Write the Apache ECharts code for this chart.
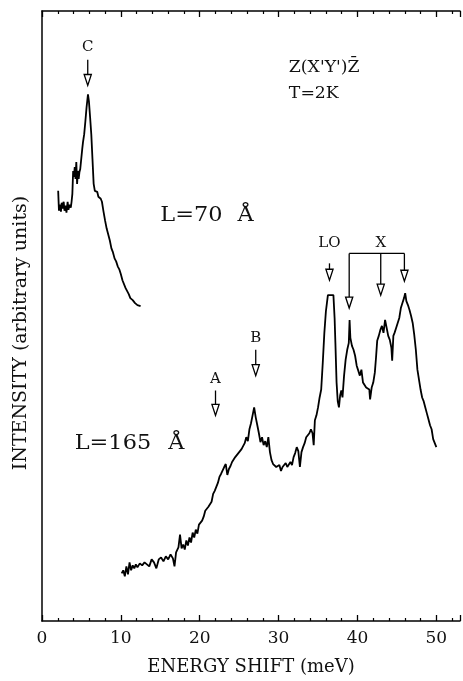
<!DOCTYPE html>
<html><head><meta charset="utf-8">
<script src="https://cdn.jsdelivr.net/npm/echarts@6/dist/echarts.min.js"></script>
<style>html,body{margin:0;padding:0;background:#fff}#c{width:463px;height:681px}</style>
</head><body><div id="c"></div>
<script>
// ---- Data (energy shift in meV, intensity in arbitrary units) ----
const xTicks = [0, 10, 20, 30, 40, 50];

const energy70 = [2.05,2.15,2.25,2.4,2.5,2.6,2.75,2.85,3.0,3.1,3.25,3.35,3.5,3.65,3.75,3.85,3.95,4.05,4.15,4.25,4.35,4.45,4.55,4.65,4.75,4.85,5.0,5.1,5.2,5.35,5.5,5.65,5.83,5.95,6.1,6.25,6.4,6.55,6.7,6.85,7.0,7.15,7.3,7.45,7.6,7.8,8.0,8.2,8.4,8.6,8.8,9.0,9.2,9.4,9.6,9.8,10.0,10.2,10.4,10.6,10.8,11.0,11.2,11.5,11.8,12.1,12.3,12.5];
const intensity70 = [433,413,419,412,421,415,422,413,418,411,422,414,419,416,422,430,453,447,457,445,462,440,453,445,452,455,455,475,482,490,503,517,530,523,507,490,465,440,433,431,432,427,428,425,422,412,403,395,389,383,375,371,365,362,357,354,349,343,341,335,332,329,325,323,320,318,316,317];

const energy165 = [10.1,10.3,10.5,10.7,10.9,11.1,11.3,11.5,11.7,11.9,12.1,12.4,12.7,13.0,13.3,13.6,13.9,14.2,14.5,14.8,15.1,15.4,15.7,16.0,16.3,16.6,16.8,17.0,17.3,17.5,17.7,17.9,18.1,18.3,18.5,18.7,18.9,19.1,19.3,19.5,19.7,19.9,20.1,20.3,20.5,20.7,20.9,21.1,21.3,21.5,21.7,21.9,22.1,22.3,22.5,22.7,22.9,23.1,23.3,23.5,23.7,23.9,24.1,24.3,24.5,24.7,24.9,25.1,25.3,25.5,25.7,25.9,26.1,26.3,26.5,26.7,26.9,27.1,27.3,27.5,27.7,27.9,28.1,28.3,28.5,28.7,28.9,29.1,29.3,29.5,29.7,29.9,30.1,30.3,30.5,30.7,30.9,31.1,31.3,31.5,31.7,31.9,32.1,32.3,32.5,32.7,32.9,33.1,33.3,33.5,33.7,33.9,34.1,34.3,34.45,34.6,34.8,35.0,35.2,35.4,35.6,35.8,36.0,36.25,36.95,37.1,37.2,37.35,37.5,37.65,37.8,37.95,38.1,38.3,38.5,38.7,38.9,39.0,39.1,39.3,39.5,39.7,39.9,40.1,40.3,40.5,40.7,40.9,41.1,41.3,41.5,41.6,41.8,42.0,42.2,42.35,42.5,42.7,42.9,43.1,43.3,43.5,43.7,43.9,44.1,44.3,44.4,44.55,44.7,44.9,45.1,45.3,45.5,45.7,45.9,46.05,46.2,46.4,46.6,46.8,47.0,47.2,47.4,47.6,47.8,48.0,48.2,48.4,48.6,48.8,49.0,49.2,49.4,49.6,49.8,50.0];
const intensity165 = [48,51,45,55,47,59,51,56,53,57,54,58,56,59,57,55,62,59,53,62,64,60,65,62,67,63,55,69,74,87,73,77,72,81,76,84,79,89,84,92,88,97,95,101,105,111,110,115,113,120,128,131,135,139,145,148,149,155,158,147,153,156,160,158,165,163,169,167,173,171,179,185,181,193,199,207,215,205,197,189,180,185,177,181,175,185,170,162,158,160,155,153,157,151,155,153,159,155,153,160,157,165,169,175,171,155,170,175,179,185,183,189,193,189,177,202,207,215,225,233,260,290,312,328,328,305,280,240,221,215,227,232,225,247,263,273,280,303,285,277,273,267,257,252,247,253,240,242,235,237,233,223,235,240,250,265,282,287,293,297,290,303,295,287,283,275,262,287,290,295,297,305,315,320,325,330,322,318,313,307,300,288,273,253,243,233,225,221,215,209,203,197,193,183,179,175];

// peak markers (arrows): energy, arrow start level, arrow tip level
const arrowEnergy = [5.8, 22.0, 27.1, 36.45, 38.95, 42.95, 45.95];
const arrowFrom   = [565, 232, 273, 360, 370, 370, 370];
const arrowTo     = [539, 207, 247, 343, 315, 328, 342];

// bracket joining the three X arrows
const bracketEnergy = [38.95, 45.95];
const bracketLevel  = [370, 370];

// peak labels
const peakLabels = ['C', 'A', 'B', 'LO', 'X'];
const peakEnergy = [5.8, 22.0, 27.1, 36.45, 42.95];
const peakLevel  = [578, 243, 285, 380, 380];

// free text annotations
const noteTexts  = ['Z(X\'Y\')Z\u0304', 'T=2K', 'L=70', '\u00C5', 'L=165', '\u00C5'];
const noteEnergy = [31.3, 31.3, 15.0, 24.8, 4.15, 16.0];
const noteLevel  = [557, 531, 408, 408, 178, 178];
const noteStyle  = ['s', 's', 'L', 'L', 'L', 'L'];

// ---- Chart ----
const FONT = '"DejaVu Serif", serif';
const chart = echarts.init(document.getElementById('c'), null, {renderer: 'canvas'});

const axisCommon = {
  type: 'value', min: 0, max: 53, interval: 10,
  axisLine: {show: true, onZero: false, lineStyle: {color: '#000', width: 1.5}},
  axisTick: {show: true, inside: true, length: 6, lineStyle: {color: '#000', width: 1.3}},
  minorTick: {show: true, splitNumber: 5, length: 3, lineStyle: {color: '#000', width: 1.2}},
  splitLine: {show: false}, minorSplitLine: {show: false}
};

chart.setOption({
  animation: false,
  backgroundColor: '#fff',
  grid: {left: 42, top: 11, width: 424, height: 614, containLabel: false},
  xAxis: [
    Object.assign({}, axisCommon, {
      position: 'bottom',
      name: 'ENERGY SHIFT (meV)', nameLocation: 'middle', nameGap: 37,
      nameTextStyle: {fontFamily: FONT, fontSize: 18, color: '#111'},
      axisLabel: {show: true, margin: 9, fontFamily: FONT, fontSize: 17, color: '#111',
        formatter: v => (xTicks.indexOf(v) >= 0 ? String(v) : '')}
    }),
    Object.assign({}, axisCommon, {position: 'top', axisLabel: {show: false}})
  ],
  yAxis: {
    type: 'value', min: 0, max: 614,
    axisLine: {show: true, onZero: false, lineStyle: {color: '#000', width: 1.5}},
    axisTick: {show: false}, axisLabel: {show: false}, splitLine: {show: false}
  },
  graphic: [{
    type: 'text', x: 21, y: 333, rotation: Math.PI / 2,
    style: {text: 'INTENSITY (arbitrary units)', fontFamily: FONT, fontSize: 19, fill: '#111',
      align: 'center', verticalAlign: 'middle'}
  }],
  series: [
    {
      type: 'line', name: 'L=70', showSymbol: false, symbol: 'none',
      data: energy70.map((e, i) => [e, intensity70[i]]),
      lineStyle: {color: '#000', width: 1.8}
    },
    {
      type: 'line', name: 'L=165', showSymbol: false, symbol: 'none',
      data: energy165.map((e, i) => [e, intensity165[i]]),
      lineStyle: {color: '#000', width: 1.8}
    },
    {
      type: 'line', name: 'bracket', showSymbol: false, symbol: 'none',
      data: bracketEnergy.map((e, i) => [e, bracketLevel[i]]),
      lineStyle: {color: '#000', width: 1.3}
    },
    {
      type: 'custom', name: 'arrows', clip: false,
      data: arrowEnergy.map((e, i) => [e, arrowFrom[i], arrowTo[i]]),
      encode: {x: 0, y: [1, 2]},
      renderItem: function (params, api) {
        const x = api.value(0);
        const p0 = api.coord([x, api.value(1)]);
        const p1 = api.coord([x, api.value(2)]);
        const h = 11, w = 3.6;
        return {type: 'group', children: [
          {type: 'line', shape: {x1: p0[0], y1: p0[1], x2: p1[0], y2: p1[1] - h},
            style: {stroke: '#000', lineWidth: 1.3}},
          {type: 'polygon', shape: {points: [[p1[0] - w, p1[1] - h], [p1[0] + w, p1[1] - h], [p1[0], p1[1]]]},
            style: {fill: '#fff', stroke: '#000', lineWidth: 1.3}}
        ]};
      }
    },
    {
      type: 'custom', name: 'peakLabels', clip: false,
      data: peakEnergy.map((e, i) => [e, peakLevel[i], i]),
      encode: {x: 0, y: 1},
      renderItem: function (params, api) {
        const p = api.coord([api.value(0), api.value(1)]);
        return {type: 'text', x: p[0], y: p[1],
          style: {text: peakLabels[api.value(2)], fontFamily: FONT, fontSize: 15, fill: '#111',
            align: 'center', verticalAlign: 'middle'}};
      }
    },
    {
      type: 'custom', name: 'notes', clip: false,
      data: noteEnergy.map((e, i) => [e, noteLevel[i], i]),
      encode: {x: 0, y: 1},
      renderItem: function (params, api) {
        const i = api.value(2);
        const p = api.coord([api.value(0), api.value(1)]);
        const big = noteStyle[i] === 'L';
        return {type: 'text', x: p[0], y: p[1], scaleX: big ? 1.12 : 1.08, originX: 0, originY: 0,
          style: {text: noteTexts[i], fontFamily: FONT, fontSize: big ? 20 : 16, fill: '#111',
            align: 'left', verticalAlign: 'middle'}};
      }
    }
  ]
});
</script></body></html>
